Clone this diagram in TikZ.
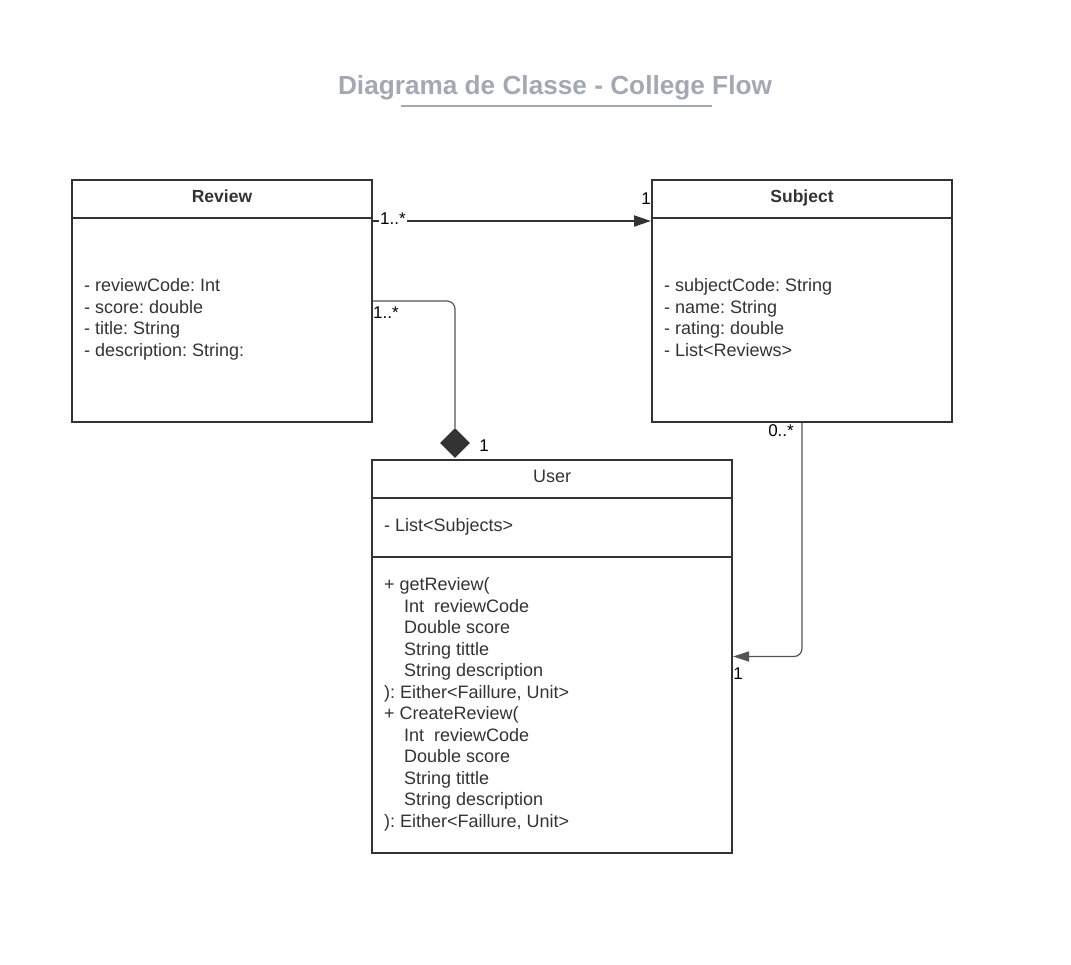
\documentclass[tikz,border=0pt]{standalone}
\usepackage{fontspec}
\setmainfont{Liberation Sans}
\frenchspacing
\usetikzlibrary{arrows.meta,shapes.geometric}
\definecolor{linecol}{HTML}{333333}
\definecolor{titlecol}{HTML}{A3A8B2}
\definecolor{wirecol}{HTML}{555555}
\newcommand{\ind}{\hspace*{20pt}}
\tikzset{
  classbox/.style={draw=linecol, line width=2pt, inner sep=0pt},
  boxtext/.style={font=\fontsize{18}{21.5}\selectfont, text=linecol, inner sep=0pt},
  multext/.style={font=\fontsize{17}{21.5}\selectfont, text=black, inner sep=1pt},
  splitline/.style={draw=linecol, line width=2pt},
  wireline/.style={draw=wirecol, line width=1.2pt, rounded corners=8pt}
}
\begin{document}
\begin{tikzpicture}[x=1pt,y=-1pt]
\useasboundingbox (0,0) rectangle (1071,964);

% title
\node[font=\fontsize{26.2}{30}\selectfont\bfseries, text=titlecol] (title) at (555,88) {Diagrama de Classe - College Flow};
\draw[titlecol, line width=2pt] (401,106) -- (712,106);

% classes
\node[classbox, minimum width=300pt, minimum height=242pt] (review) at (222,301) {};
\node[classbox, minimum width=300pt, minimum height=242pt] (subject) at (802,301) {};
\node[classbox, minimum width=360pt, minimum height=393pt] (user) at (552,656.5) {};

\draw[splitline] (review.west |- 0,218) -- (review.east |- 0,218);
\draw[splitline] (subject.west |- 0,218) -- (subject.east |- 0,218);
\draw[splitline] (user.west |- 0,498) -- (user.east |- 0,498);
\draw[splitline] (user.west |- 0,557) -- (user.east |- 0,557);

\node[boxtext, font=\fontsize{17.5}{21.5}\selectfont\bfseries, anchor=base] (reviewname) at (222,202.5) {Review};
\node[boxtext, font=\fontsize{17.5}{21.5}\selectfont\bfseries, anchor=base] (subjectname) at (802,202.5) {Subject};
\node[boxtext, anchor=base] (username) at (552,482.5) {User};

\node[boxtext, anchor=north west, align=left] (reviewattr) at (84,278.5)
  {- reviewCode: Int\\- score: double\\- title: String\\- description: String:};
\node[boxtext, anchor=north west, align=left] (subjectattr) at (664,278.5)
  {- subjectCode: String\\- name: String\\- rating: double\\- List<Reviews>};
\node[boxtext, anchor=north west, align=left] (userattr) at (384,518.5)
  {- List<Subjects>};
\node[boxtext, anchor=north west, align=left] (usermeth) at (384,577.5)
  {+ getReview(\\\ind Int\ \ reviewCode\\\ind Double score\\\ind String tittle\\\ind String description\\): Either<Faillure, Unit>\\
   + CreateReview(\\\ind Int\ \ reviewCode\\\ind Double score\\\ind String tittle\\\ind String description\\): Either<Faillure, Unit>};

% connectors
\node[diamond, fill=linecol, minimum width=30pt, minimum height=30pt, inner sep=0pt] (compdia) at (455,443) {};

\draw[linecol, line width=2pt, -{Triangle[length=17pt,width=11pt]}] (review.east |- 0,221) -- (subject.west |- 0,221);
\draw[wireline] (review.east |- 0,301) -| (compdia.north);
\draw[wireline, -{Triangle[length=16pt,width=10pt]}] (subject.south) |- (user.east);

\node[multext, fill=white] (revmul) at (393,219) {1..*};
\node[multext] (submul) at (646,199) {1};
\node[multext] (revcmul) at (386,313) {1..*};
\node[multext] (usercmul) at (484,446) {1};
\node[multext] (subumul) at (781,431) {0..*};
\node[multext] (usermul) at (738,674) {1};

\end{tikzpicture}
\end{document}
